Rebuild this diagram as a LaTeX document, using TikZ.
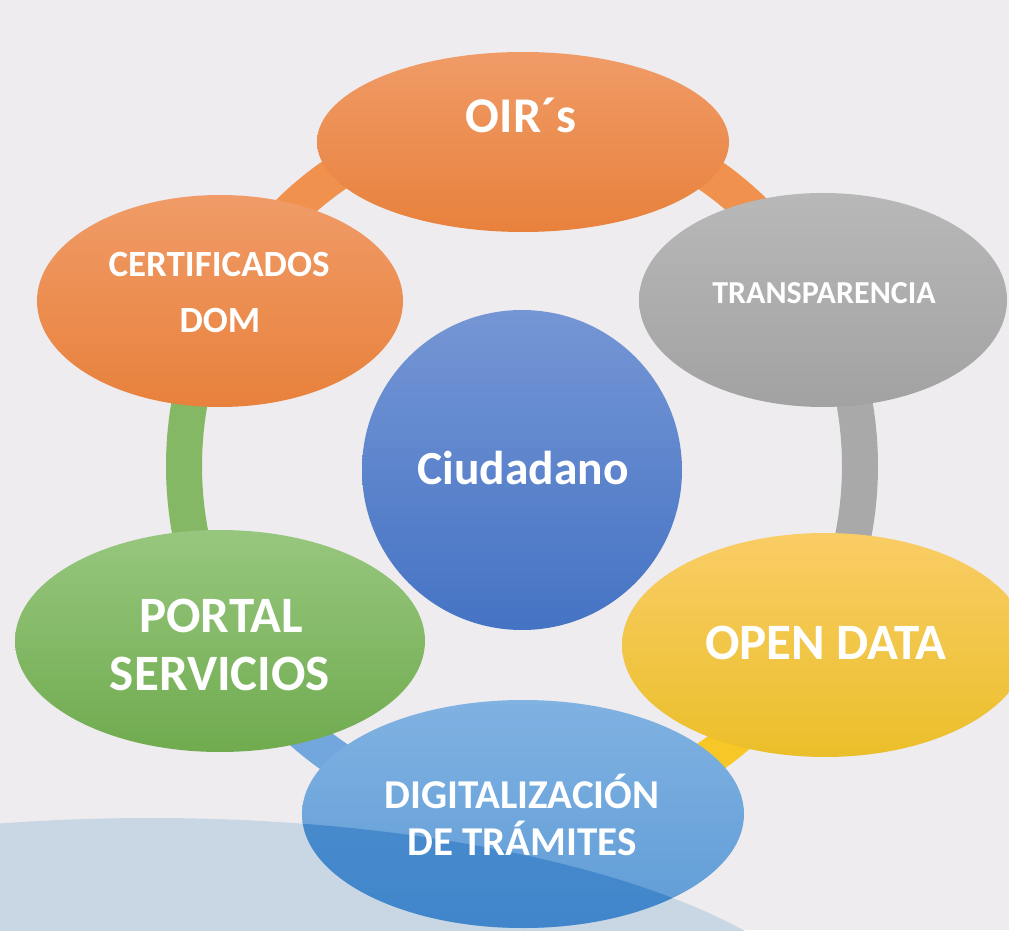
\documentclass[tikz,border=0pt]{standalone}
\usepackage{fontspec}
\setmainfont{Carlito}
\usetikzlibrary{shapes.geometric}
\definecolor{bgcol}{HTML}{EEECEF}
\definecolor{bgshape}{HTML}{C9D6E4}
\definecolor{overlaycol}{HTML}{2D78C3}
\definecolor{orT}{HTML}{F09B67}
\definecolor{orB}{HTML}{E8813C}
\definecolor{orR}{HTML}{F0914E}
\definecolor{grT}{HTML}{B8B8B8}
\definecolor{grB}{HTML}{A2A2A2}
\definecolor{grR}{HTML}{A9A9A9}
\definecolor{yeT}{HTML}{F9CD65}
\definecolor{yeM}{HTML}{F8C92A}
\definecolor{yeB}{HTML}{EBBF2A}
\definecolor{yeR}{HTML}{F6C726}
\definecolor{blT}{HTML}{80B2E2}
\definecolor{blB}{HTML}{5F9CD6}
\definecolor{blR}{HTML}{71A7DD}
\definecolor{gnT}{HTML}{97C77E}
\definecolor{gnB}{HTML}{70AB4F}
\definecolor{gnR}{HTML}{84B865}
\definecolor{ciT}{HTML}{7596D5}
\definecolor{ciB}{HTML}{4573C4}
\begin{document}
\begin{tikzpicture}[x=1pt,y=1pt,
  bubble/.style={ellipse, inner sep=0pt, draw=none},
  ringseg/.style={line width=36pt},
  lbl/.style={text=white, inner sep=0pt, anchor=base},
  big/.style={font=\bfseries\fontsize{51}{51}\selectfont},
]
\useasboundingbox (0,0) rectangle (1009,930);
\clip (0,0) rectangle (1009,930);
\fill[bgcol] (0,0) rectangle (1009,930);
% background shape
\fill[bgshape] (150,-127) ellipse [x radius=700, y radius=239];
% ring points
\coordinate (rc) at (522,464);
\coordinate (r1) at ({522+338*cos(90)},{464+350*sin(90)});
\coordinate (r2) at ({522+338*cos(30)},{464+350*sin(30)});
\coordinate (r3) at ({522+338*cos(-30)},{464+350*sin(-30)});
\coordinate (r4) at ({522+338*cos(-90)},{464+350*sin(-90)});
\coordinate (r5) at ({522+338*cos(210)},{464+350*sin(210)});
\coordinate (r6) at ({522+338*cos(150)},{464+350*sin(150)});
\draw[ringseg, orR] (r6) arc[start angle=150, end angle=90, x radius=338, y radius=350];
\draw[ringseg, orR] (r1) arc[start angle=90, end angle=30, x radius=338, y radius=350];
\draw[ringseg, grR] (r2) arc[start angle=30, end angle=-30, x radius=338, y radius=350];
\draw[ringseg, yeR] (r3) arc[start angle=-30, end angle=-90, x radius=338, y radius=350];
\draw[ringseg, blR] (r4) arc[start angle=270, end angle=210, x radius=338, y radius=350];
\draw[ringseg, gnR] (r5) arc[start angle=210, end angle=150, x radius=338, y radius=350];
% ellipses
\node[bubble, minimum width=412, minimum height=180, top color=orT, bottom color=orB] (oir) at (523,788) {};
\node[bubble, minimum width=366, minimum height=212, top color=orT, bottom color=orB] (cert) at (220,629) {};
\node[bubble, minimum width=368, minimum height=214, top color=grT, bottom color=grB] (transp) at (823,630) {};
\node[bubble, minimum width=406, minimum height=224, top color=yeT, middle color=yeM, bottom color=yeB] (open) at (825,285) {};
\node[bubble, minimum width=442, minimum height=228, top color=blT, bottom color=blB] (digit) at (523,116) {};
\node[bubble, minimum width=410, minimum height=222, top color=gnT, bottom color=gnB] (portal) at (220,289) {};
\node[circle, inner sep=0pt, minimum size=320, top color=ciT, bottom color=ciB] (ciud) at (522,460) {};
% overlay of background shape on the blue ellipse
\begin{scope}
\clip (523,116) ellipse [x radius=221, y radius=114];
\fill[overlaycol, opacity=0.6] (150,-127) ellipse [x radius=700, y radius=239];
\end{scope}
% labels
\node[lbl, font=\bfseries\fontsize{50}{50}\selectfont] (toir) at (521,797) {OIR´s};
\node[lbl, font=\bfseries\fontsize{37}{37}\selectfont] (tcert1) at (219,653) {CERTIFICADOS};
\node[lbl, font=\bfseries\fontsize{37}{37}\selectfont] (tcert2) at (220,597) {DOM};
\node[lbl, font=\bfseries\fontsize{32}{32}\selectfont] (ttransp) at (824,626) {TRANSPARENCIA};
\node[lbl, font=\bfseries\fontsize{47.5}{47.5}\selectfont] (tciud) at (523,445) {Ciudadano};
\node[lbl, big] (topen) at (826,271) {OPEN DATA};
\node[lbl, big] (tport1) at (221,298) {PORTAL};
\node[lbl, big] (tport2) at (220,240) {SERVICIOS};
\node[lbl, font=\bfseries\fontsize{41}{41}\selectfont] (tdig1) at (522,122) {DIGITALIZACIÓN};
\node[lbl, font=\bfseries\fontsize{41}{41}\selectfont] (tdig2) at (522,75) {DE TRÁMITES};
\end{tikzpicture}
\end{document}
